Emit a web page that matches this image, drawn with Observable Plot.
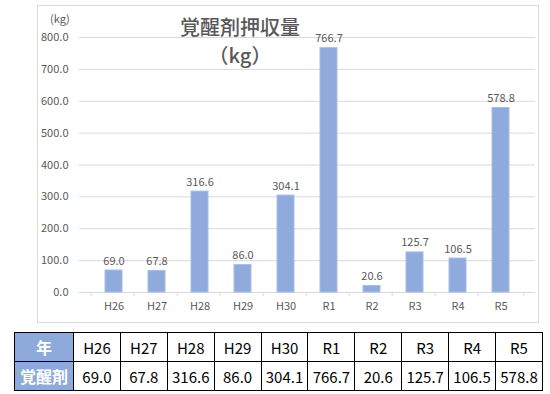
<!DOCTYPE html>
<html><head><meta charset="utf-8">
<script src="https://cdn.jsdelivr.net/npm/d3@7"></script>
<script src="https://cdn.jsdelivr.net/npm/@observablehq/plot@0.6"></script>
<style>
body{margin:0;background:#fff;font-family:"Noto Sans CJK JP","Noto Sans",sans-serif;}
#wrap{position:relative;width:550px;height:394px;overflow:hidden;}
#box{position:absolute;left:37px;top:5px;width:502px;height:318px;border:1px solid #d9d9d9;box-sizing:border-box;}
#title{position:absolute;left:140px;width:200px;top:13px;text-align:center;color:#595959;font-size:20px;line-height:28px;font-weight:500;}
#unit{position:absolute;left:50px;top:10px;color:#595959;font-size:11px;}
#chart{position:absolute;left:0;top:0;}
table{position:absolute;left:14px;top:332px;border-collapse:collapse;width:529px;table-layout:fixed;}
td{border:1px solid #000;height:28px;padding:0;text-align:center;font-size:15px;color:#000;}
td.h{background:#8eaadb;color:#fff;font-weight:bold;font-size:16px;width:58px;}
</style></head>
<body><div id="wrap"><div id="box"></div><div id="chart"></div>
<div id="title">覚醒剤押収量<br>（kg）</div><div id="unit">(kg)</div>
<table id="tbl"></table></div>
<script>
const years = ["H26","H27","H28","H29","H30","R1","R2","R3","R4","R5"];
const values = [69.0,67.8,316.6,86.0,304.1,766.7,20.6,125.7,106.5,578.8];
const yTicks = [0,100,200,300,400,500,600,700,800];
const rowHeader = "年";
const seriesName = "覚醒剤";

const data = years.map((y,i)=>({year:y, value:values[i]}));
const step = (535-79)/years.length;
const plot = Plot.plot({
  width:550, height:325,
  marginLeft:79, marginRight:15, marginTop:37, marginBottom:33,
  style:{fontFamily:'"Noto Sans CJK JP","Noto Sans",sans-serif', fontSize:"11px", color:"#595959", background:"transparent"},
  x:{domain:years, padding:0.6, align:0.5, label:null, tickSize:0, tickPadding:10},
  y:{domain:[0,800], ticks:yTicks, tickFormat:d3.format(".1f"), tickSize:0, tickPadding:11, label:null},
  marks:[
    Plot.gridY(yTicks.filter(d=>d>0), {stroke:"#d9d9d9", strokeOpacity:1}),
    Plot.ruleY([0], {stroke:"#d9d9d9"}),
    Plot.ruleX(years, {x:d=>d, dx:-step/2, y1:0, y2:-13, stroke:"#d9d9d9"}),
    Plot.ruleX([years[years.length-1]], {x:d=>d, dx:step/2, y1:0, y2:-13, stroke:"#d9d9d9"}),
    Plot.barY(data, {x:"year", y:"value", fill:"#8faadc", stroke:"#a9bde5", strokeWidth:1}),
    Plot.text(data, {x:"year", y:"value", text:d=>d3.format(".1f")(d.value), lineAnchor:"bottom", dy:-6, fill:"#595959", fontSize:11})
  ]
});
document.getElementById("chart").appendChild(plot);

const tbl = document.getElementById("tbl");
const r1 = tbl.insertRow(), r2 = tbl.insertRow();
let c = r1.insertCell(); c.className="h"; c.textContent=rowHeader;
c = r2.insertCell(); c.className="h"; c.textContent=seriesName;
years.forEach((y,i)=>{ r1.insertCell().textContent=y; r2.insertCell().textContent=d3.format(".1f")(values[i]); });
</script></body></html>
